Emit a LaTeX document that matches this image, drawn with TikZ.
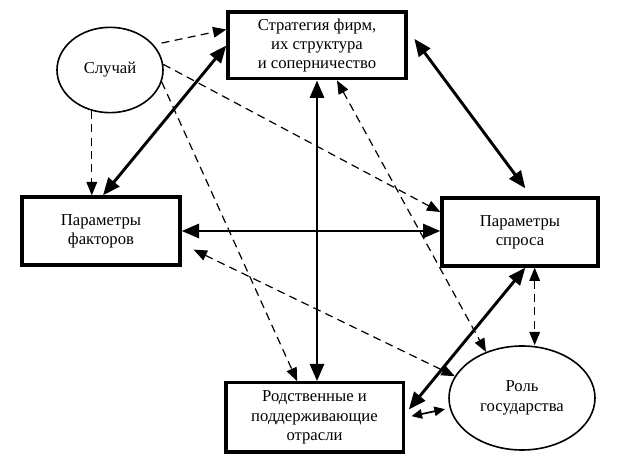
\documentclass[tikz,border=0pt]{standalone}
\usepackage{fontspec}
\setmainfont{Liberation Serif}
\usetikzlibrary{shapes.geometric,arrows.meta,positioning,calc}

\begin{document}
\begin{tikzpicture}[
    x=0.75pt, y=-0.75pt,
    font=\fontsize{12.5}{14.5}\selectfont,
    box/.style     ={draw=black,line width=2.5pt,align=center,inner sep=2pt},
    oval/.style    ={ellipse,draw=black,line width=1.2pt,align=center,inner sep=1pt},
    both/.style    ={{Triangle[length=13pt,width=10.5pt]}-{Triangle[length=13pt,width=10.5pt]},line width=2.2pt},
    dashline/.style={-{Triangle[length=10pt,width=8pt]},line width=0.9pt,dash pattern=on 6pt off 4pt},
    dashboth/.style={dashline,{Triangle[length=10pt,width=8pt]}-{Triangle[length=10pt,width=8pt]}},
    small/.style   ={{Triangle[length=8pt,width=7pt]}-{Triangle[length=8pt,width=7pt]},line width=1.3pt},
]

\useasboundingbox (0,0) rectangle (626,459);

% ---------- Factors of the diamond ----------
\node[box, minimum width=133.5pt, minimum height=50pt] (strat) at (317,45.5)
  {Стратегия фирм,\\их структура\\и соперничество};
\node[oval, minimum width=79.5pt, minimum height=64pt] (chance) at (110,70) {Случай};
\node[box, minimum width=118.5pt, minimum height=51pt] (factors) at (101,231)
  {Параметры\\факторов};
\node[box, minimum width=117pt, minimum height=51pt] (demand) at (520,232)
  {Параметры\\спроса};
\node[box, minimum width=133pt, minimum height=52pt] (related) at (314.5,417.5)
  {Родственные и\\поддерживающие\\отрасли};
\node[oval, minimum width=109.5pt, minimum height=78pt] (gov) at (522,398)
  {Роль\\государства};

% ---------- Solid links ----------
\draw[both] (strat.west) -- ([xshift=1.5pt]factors.north);
\draw[both] ([xshift=5pt,yshift=5pt]strat.east) -- ([xshift=4pt,yshift=6pt]demand.north);
\draw[both] (strat.south) -- (strat.south |- related.north);
\draw[both] (factors.east) -- (factors.east -| demand.west);
\draw[both] ([xshift=3pt,yshift=6pt]related.east) -- ([xshift=4pt]demand.south);
\draw[small, shorten <=5pt, shorten >=3.5pt] (related.east) -- (gov.188);

% ---------- Dashed links ----------
\draw[dashline, shorten <=6pt] (chance.30) -- ([yshift=12pt]strat.west);
\draw[dashline] (chance.246) -- (chance.246 |- factors.north);
\draw[dashline] (chance.6) -- ([yshift=15pt]demand.west);
\draw[dashline] (chance.-13) -- ([xshift=-13pt]related.north);
\draw[dashboth] ([xshift=15pt]strat.south) -- (gov.128);
\draw[dashboth] ([xshift=9pt,yshift=-14pt]factors.east) -- (gov.162);
\draw[dashboth] ([xshift=11pt]demand.south) -- ([xshift=11pt]demand.south |- gov.north);

\end{tikzpicture}
\end{document}
